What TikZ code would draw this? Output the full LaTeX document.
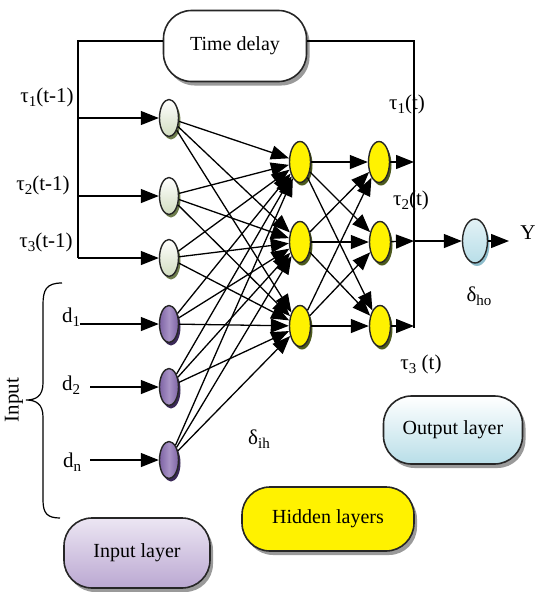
\documentclass[tikz,border=0pt]{standalone}
\usepackage{fontspec}
\setmainfont{Liberation Serif}
\usetikzlibrary{arrows.meta,shapes.geometric,shadows}
\newcommand\lsub[1]{\raisebox{-0.45ex}{\fontsize{15}{15}\selectfont #1}}
\definecolor{tgreen}{HTML}{D2DDC0}
\definecolor{tshadow}{HTML}{6E7D4C}
\definecolor{dpurple}{HTML}{7E64A4}
\definecolor{dlight}{HTML}{A893C6}
\definecolor{dshadow}{HTML}{3A2857}
\definecolor{hshadow}{HTML}{4D5A1E}
\definecolor{oblue}{HTML}{B8DEE8}
\definecolor{oshadow}{HTML}{8DBCCB}
\definecolor{boxshadow}{HTML}{9A9A9A}
\definecolor{ipurple}{HTML}{BBA8D2}
\definecolor{ilight}{HTML}{ECE6F3}
\tikzset{
  arr/.style={-{Triangle[length=18pt,width=14pt]}, line width=1.3pt},
  wire/.style={line width=1.5pt},
  neur/.style={ellipse, draw=black!85, line width=1.4pt, inner sep=0pt},
  tnode/.style={neur, minimum width=19pt, minimum height=37pt, top color=white, bottom color=tgreen,
    drop shadow={shadow xshift=2pt, shadow yshift=-3pt, fill=tshadow, opacity=1}},
  dnode/.style={neur, minimum width=19pt, minimum height=37pt, left color=dpurple, right color=dpurple, middle color=dlight,
    drop shadow={shadow xshift=2pt, shadow yshift=-3pt, fill=dshadow, opacity=1}},
  hnode/.style={neur, minimum width=21pt, minimum height=41pt, fill=yellow,
    drop shadow={shadow xshift=2pt, shadow yshift=-3pt, fill=hshadow, opacity=1}},
  onode/.style={neur, minimum width=25pt, minimum height=44pt, top color=oblue!40, bottom color=oblue,
    drop shadow={shadow xshift=2pt, shadow yshift=-3pt, fill=oshadow, opacity=1}},
  layerbox/.style={draw=black!85, line width=1.6pt, rounded corners=28pt, minimum height=70pt,
    font=\fontsize{20}{24}\selectfont,
    drop shadow={shadow xshift=3pt, shadow yshift=-4pt, fill=boxshadow, opacity=1}},
  lab/.style={font=\fontsize{21}{24}\selectfont, inner sep=0pt},
}
\begin{document}
\begin{tikzpicture}[x=1pt,y=-1pt]
\useasboundingbox (0,0) rectangle (542,592);
% layer boxes
\node[layerbox, fill=white, minimum width=143pt, minimum height=71pt] (td) at (235,46) {Time delay};
\node[layerbox, top color=ilight, bottom color=ipurple, minimum width=146pt] (il) at (137,553) {Input layer};
\node[layerbox, fill=yellow, minimum width=172pt, minimum height=64pt] (hl) at (328,519) {Hidden layers};
\node[layerbox, top color=white, bottom color=oblue, minimum width=139pt, minimum height=68pt] (ol) at (453,430) {Output layer};
% input nodes
\node[tnode] (n1) at (169,118) {};
\node[tnode] (n2) at (169,196) {};
\node[tnode] (n3) at (169,258) {};
\node[dnode] (n4) at (169,324) {};
\node[dnode] (n5) at (169,387) {};
\node[dnode] (n6) at (169,460) {};
% hidden layers
\node[hnode] (h1) at (300,162) {};
\node[hnode] (h2) at (300,242) {};
\node[hnode] (h3) at (300,326) {};
\node[hnode] (g1) at (379,162) {};
\node[hnode] (g2) at (380,242) {};
\node[hnode] (g3) at (380,326) {};
% output
\node[onode] (out) at (475,241) {};
% feedback frame
\coordinate (lt) at (78,41);
\coordinate (lb) at (78,258);
\coordinate (rt) at (414,41);
\coordinate (rb) at (414,328);
\coordinate (l1) at (78,118);
\coordinate (l2) at (78,196);
\coordinate (r1) at (414,162);
\coordinate (r2) at (414,241);
\coordinate (r3) at (414,326);
\coordinate (d1) at (80,324);
\coordinate (d2) at (90,387);
\coordinate (d3) at (90,460);
\coordinate (yend) at (509,241);
\draw[wire] (lb) -- (lt) -- (td.west |- lt);
\draw[wire] (td.east |- rt) -- (rt) -- (rb);
\draw[arr] (l1) -- (n1);
\draw[arr] (l2) -- (n2);
\draw[arr] (lb) -- (n3);
\draw[arr] (d1) -- (n4);
\draw[arr] (d2) -- (n5);
\draw[arr] (d3) -- (n6);
\foreach \i in {1,...,6} \foreach \j in {1,2,3} \draw[arr] (n\i) -- (h\j);
\foreach \i in {1,2,3} \foreach \j in {1,2,3} \draw[arr] (h\i) -- (g\j);
\draw[arr] (g1) -- (r1);
\draw[arr] (g2) -- (r2);
\draw[arr] (g3) -- (r3);
\draw[arr] (r2) -- (out);
\draw[arr] (out) -- (yend);
% labels
\node[lab] (t1) at (47,97) {τ\lsub{1}(t-1)};
\node[lab] (t2) at (43,185) {τ\lsub{2}(t-1)};
\node[lab] (t3) at (46,242) {τ\lsub{3}(t-1)};
\node[lab] (dl1) at (71,317) {d\lsub{1}};
\node[lab] (dl2) at (71,385) {d\lsub{2}};
\node[lab] (dl3) at (72,462) {d\lsub{n}};
\node[lab] (o1) at (407,104) {τ\lsub{1}(t)};
\node[lab] (o2) at (411,200) {τ\lsub{2}(t)};
\node[lab] (o3) at (421,364) {τ\lsub{3} (t)};
\node[lab] (dho) at (479,296) {δ\lsub{ho}};
\node[lab] (dih) at (259,439) {δ\lsub{ih}};
\node[lab] (yl) at (528,233) {Y};
% brace
\draw[line width=1.2pt] (62,283) .. controls (46,283) and (43,290) .. (43,305) -- (43,383)
  .. controls (43,396) and (36,400) .. (26,400) .. controls (36,400) and (43,404) .. (43,417)
  -- (43,500) .. controls (43,513) and (47,518) .. (60,518);
\node[lab, rotate=90] (inp) at (14,400) {Input};
\end{tikzpicture}
\end{document}
